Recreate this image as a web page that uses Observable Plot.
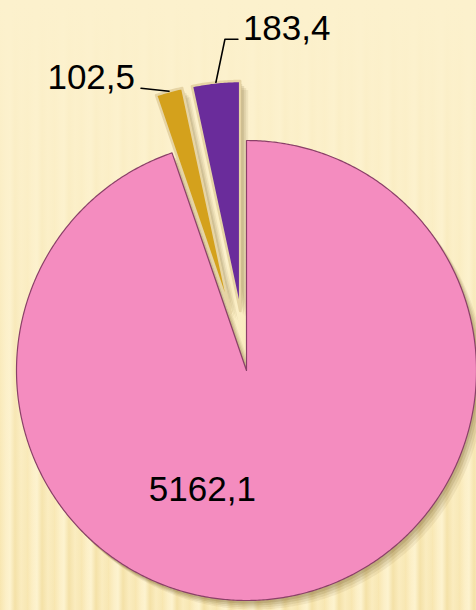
<!DOCTYPE html>
<html><head><meta charset="utf-8">
<script src="https://cdn.jsdelivr.net/npm/d3@7"></script>
<script src="https://cdn.jsdelivr.net/npm/@observablehq/plot@0.6"></script>
<style>
html,body{margin:0;padding:0;}
body{width:476px;height:610px;overflow:hidden;}
</style></head><body><div id="chart"></div>
<script>
// ---- data ----
const categories = ["Сегмент 1", "Сегмент 2", "Сегмент 3"];
const values = [5162.1, 102.5, 183.4];
const colors = ["#f48cbf", "#d4a11c", "#6a2c9b"];
const strokes = ["#8a4068", "#e6d4a4", "#e6d4a4"];
const explode = [0, 0.26, 0.26];

// ---- layout ----
const W = 476, H = 610, R = 230, CX = 246, CY = 370;
const fmt = d3.formatLocale({decimal: ",", thousands: "", grouping: [3], currency: ["", ""]}).format(".1f");

const rows = categories.map((c, i) => ({cat: c, value: values[i], i}));
const arcs = d3.pie().sort(null).value(d => d.value)(rows);

function pt(a, r, o) { return [o[0] + r * Math.sin(a), o[1] + r * Math.cos(a)]; }

const slices = arcs.map(a => {
  const i = a.data.i;
  const mid = (a.startAngle + a.endAngle) / 2;
  const o = [explode[i] * Math.sin(mid), explode[i] * Math.cos(mid)];
  const n = Math.max(4, Math.ceil((a.endAngle - a.startAngle) / (Math.PI / 360)));
  const pts = [o];
  for (let k = 0; k <= n; k++) pts.push(pt(a.startAngle + (a.endAngle - a.startAngle) * k / n, 1, o));
  pts.push(o);
  return {i, mid, o, pts: pts.map(p => ({x: p[0], y: p[1], i}))};
});

// label placement (pixel offsets)
const labelLayout = [
  {r: 0.58, dx: -66, dy: -12, anchor: "middle"},
  {leader: [[0, 0], [-28, -3]], dx: -6, dy: -10, anchor: "end"},
  {leader: [[0, 0], [9, -43], [22, -43]], dx: 5, dy: -11, anchor: "start"}
];

const labels = [];
const leaders = [];
slices.forEach(s => {
  const L = labelLayout[s.i];
  const text = fmt(values[s.i]);
  if (L.leader) {
    const A = pt(s.mid, 1, s.o);
    const line = L.leader.map(([dx, dy]) => ({x: A[0] + dx / R, y: A[1] - dy / R, i: s.i}));
    leaders.push(line);
    const end = line[line.length - 1];
    labels.push({x: end.x + L.dx / R, y: end.y - L.dy / R, text, anchor: L.anchor});
  } else {
    const C = pt(s.mid, L.r, s.o);
    labels.push({x: C[0] + L.dx / R, y: C[1] - L.dy / R, text, anchor: L.anchor});
  }
});

const marks = [];
// layered soft shadow (lower right)
[[8, 9, 0.07], [6, 7, 0.09], [4, 5, 0.12], [2, 3, 0.14]].forEach(([dx, dy, op]) => {
  slices.forEach(s => {
    marks.push(Plot.line(s.pts, {x: "x", y: "y", fill: "#5a3f08", fillOpacity: op, stroke: "none", dx, dy}));
  });
});
slices.forEach(s => {
  marks.push(Plot.line(s.pts, {x: "x", y: "y", fill: colors[s.i], stroke: strokes[s.i],
    strokeWidth: s.i === 0 ? 1.2 : 2.5, strokeLinejoin: "round"}));
});
leaders.forEach(l => marks.push(Plot.line(l, {x: "x", y: "y", stroke: "black", strokeWidth: 1.6})));
["start", "middle", "end"].forEach(anc => {
  marks.push(Plot.text(labels.filter(d => d.anchor === anc), {x: "x", y: "y", text: "text",
    textAnchor: anc, fontSize: 35, fontFamily: "Liberation Sans, Arial, sans-serif", fill: "#000"}));
});

const plot = Plot.plot({
  width: W, height: H,
  marginLeft: 0, marginRight: 0, marginTop: 0, marginBottom: 0,
  x: {domain: [-CX / R, (W - CX) / R], axis: null},
  y: {domain: [-(H - CY) / R, CY / R], axis: null},
  style: {
    backgroundColor: "#fbeec6",
    backgroundImage: "linear-gradient(to bottom, rgba(252,241,205,1) 0%, rgba(252,241,205,0.75) 35%, rgba(252,241,205,0.1) 100%), repeating-linear-gradient(90deg, #f7e4ab 0px, #fcefc6 6px, #fdf3cf 10px, #f3dfa2 15px, #faebbc 21px, #f7e6b0 27px)",
    overflow: "visible"
  },
  marks
});
document.getElementById("chart").appendChild(plot);
</script></body></html>
